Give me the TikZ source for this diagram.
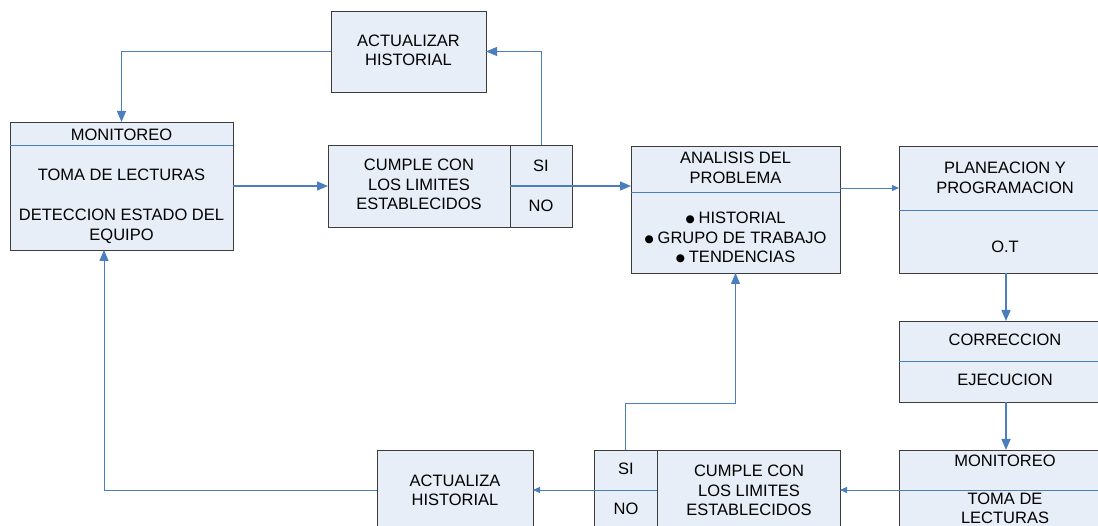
\documentclass[tikz,border=0pt]{standalone}
\usepackage{fontspec}
\setmainfont{Liberation Sans}
\newfontfamily\symfont{DejaVu Sans}
\usetikzlibrary{arrows.meta,calc}
\definecolor{boxfill}{RGB}{232,238,247}
\definecolor{boxline}{RGB}{60,60,60}
\definecolor{conn}{RGB}{74,126,190}
\newcommand{\bul}{\raisebox{1.8pt}{\symfont\fontsize{10.5}{12}\selectfont ●}\hspace{4pt}}
\begin{document}
\begin{tikzpicture}[x=1pt,y=-1pt,
 box/.style={draw=boxline, fill=boxfill, line width=0.9pt, rectangle, inner sep=0pt, outer sep=0pt, anchor=north west},
 lbl/.style={font=\fontsize{16.5}{20}\selectfont, anchor=base, inner sep=0pt},
 divider/.style={draw=conn, line width=0.8pt},
 thinc/.style={draw=conn, line width=0.9pt},
 thickc/.style={draw=conn, line width=1.5pt},
 bigtip/.style={-{Triangle[length=11pt,width=9pt]}},
 smalltip/.style={-{Triangle[length=7pt,width=6pt]}}]

\useasboundingbox (0,0) rectangle (1098,526);
\clip (0,0) rectangle (1098,526);

% boxes
\node[box, minimum width=155pt, minimum height=81pt] (act1) at (331,11) {};
\node[box, minimum width=223pt, minimum height=128pt] (mon1) at (10,122) {};
\node[box, minimum width=182pt, minimum height=82pt] (cum1) at (328,145) {};
\node[box, minimum width=62pt, minimum height=82pt] (sn1) at (510,145) {};
\node[box, minimum width=209pt, minimum height=127pt] (ana) at (631,146) {};
\node[box, minimum width=214pt, minimum height=127pt] (pla) at (899,146) {};
\node[box, minimum width=214pt, minimum height=81pt] (cor) at (899,321) {};
\node[box, minimum width=214pt, minimum height=100pt] (mon2) at (899,450) {};
\node[box, minimum width=183pt, minimum height=100pt] (cum2) at (657,450) {};
\node[box, minimum width=63pt, minimum height=100pt] (sn2) at (594,450) {};
\node[box, minimum width=156pt, minimum height=100pt] (act2) at (377,450) {};

% dividers
\draw[divider] ($(mon1.north west)+(0,23)$) -- ($(mon1.north east)+(0,23)$);
\draw[divider] ($(ana.north west)+(0,46)$) -- ($(ana.north east)+(0,46)$);
\draw[divider] ($(pla.north west)+(0,64)$) -- ($(pla.north east)+(0,64)$);
\draw[divider] ($(cor.north west)+(0,40)$) -- ($(cor.north east)+(0,40)$);

% texts
\node[lbl] (t1a) at (408.5,47) {ACTUALIZAR};
\node[lbl] (t1b) at (408.5,66) {HISTORIAL};

\node[lbl] (t2a) at (121.5,141) {MONITOREO};
\node[lbl] (t2b) at (121.5,181) {TOMA DE LECTURAS};
\node[lbl] (t2c) at (121.5,221) {DETECCION ESTADO DEL};
\node[lbl] (t2d) at (121.5,241) {EQUIPO};

\node[lbl] (t3a) at (419,171) {CUMPLE CON};
\node[lbl] (t3b) at (419,191) {LOS LIMITES};
\node[lbl] (t3c) at (419,210) {ESTABLECIDOS};
\node[lbl] (t3d) at (541,172) {SI};
\node[lbl] (t3e) at (541,212) {NO};

\node[lbl] (t4a) at (735.5,164) {ANALISIS DEL};
\node[lbl] (t4b) at (735.5,184) {PROBLEMA};
\node[lbl] (t4c) at (735.5,224) {\bul HISTORIAL};
\node[lbl] (t4d) at (735.5,244) {\bul GRUPO DE TRABAJO};
\node[lbl] (t4e) at (735.5,263) {\bul TENDENCIAS};

\node[lbl] (t5a) at (1005,174) {PLANEACION Y};
\node[lbl] (t5b) at (1005,194) {PROGRAMACION};
\node[lbl] (t5c) at (1005,253) {O.T};

\node[lbl] (t6a) at (1005,346) {CORRECCION};
\node[lbl] (t6b) at (1005,386) {EJECUCION};

\node[lbl] (t7a) at (1005,466) {MONITOREO};
\node[lbl] (t7b) at (1005,504) {TOMA DE};
\node[lbl] (t7c) at (1005,523) {LECTURAS};

\node[lbl] (t8a) at (749,476) {CUMPLE CON};
\node[lbl] (t8b) at (749,496) {LOS LIMITES};
\node[lbl] (t8c) at (749,515) {ESTABLECIDOS};
\node[lbl] (t8d) at (626,475) {SI};
\node[lbl] (t8e) at (626,514) {NO};

\node[lbl] (t9a) at (455,486) {ACTUALIZA};
\node[lbl] (t9b) at (455,505) {HISTORIAL};

% connectors
\draw[thinc, bigtip] (act1.west) -| (mon1.north);
\draw[thickc, bigtip] (mon1.east) -- (mon1.east -| cum1.west);
\draw[thinc, bigtip] (sn1.north) |- (act1.east);
\draw[thickc, bigtip] (sn1.west) -- (sn1.west -| ana.west);
\coordinate (anar) at ($(ana.north east)+(0,42)$);
\draw[thinc, smalltip] (anar) -- (anar -| pla.west);
\draw[thickc, bigtip] (pla.south) -- (cor.north);
\draw[thickc, bigtip] (cor.south) -- (mon2.north);
\coordinate (rin) at (1110,490);
\draw[thinc, smalltip] (rin) -- (rin -| cum2.east);
\coordinate (c2w) at ($(cum2.north west)+(0,40)$);
\draw[thinc, smalltip] (c2w) -- (c2w -| act2.east);
\draw[thinc, bigtip] (sn2.north) -- ++(0,-47) -| (ana.south);
\coordinate (a2w) at ($(act2.north west)+(0,40)$);
\coordinate (m1b) at ($(mon1.south west)+(94,0)$);
\draw[thinc, bigtip] (a2w) -| (m1b);
\end{tikzpicture}
\end{document}
